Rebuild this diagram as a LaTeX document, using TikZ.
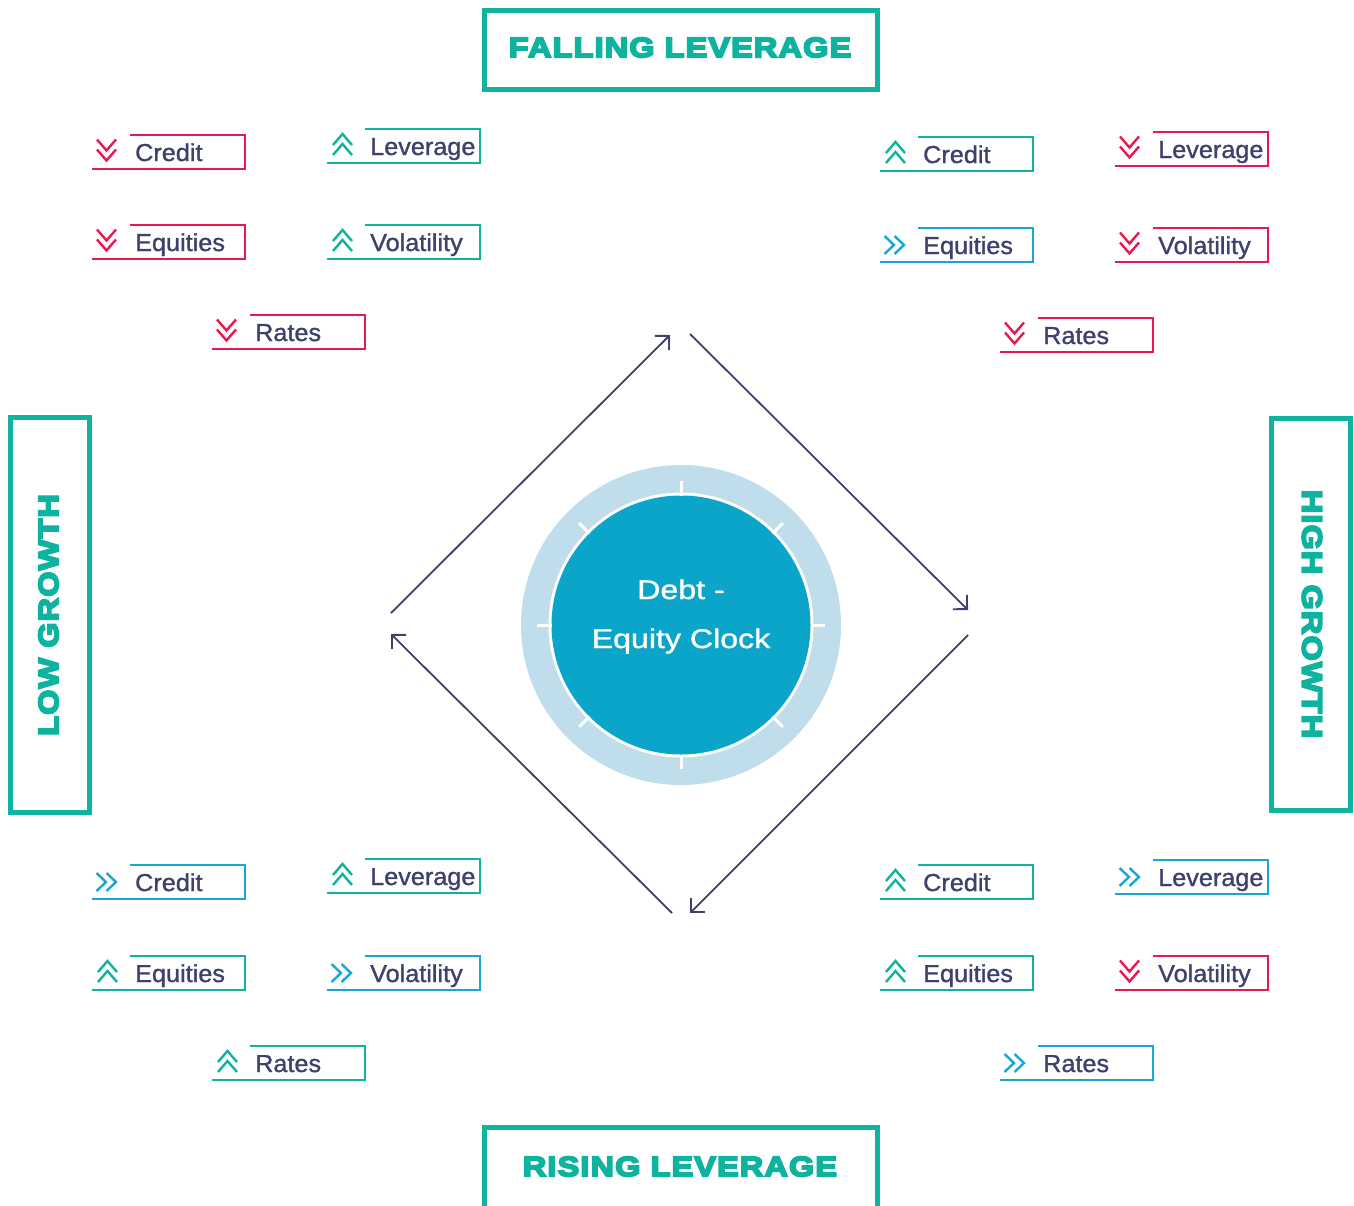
\documentclass[tikz,border=0pt]{standalone}
\usepackage{fontspec}
\setmainfont{Liberation Sans}
\newfontfamily\heavyfont[FakeBold=6.5,FakeStretch=1.16,LetterSpace=4]{Liberation Sans Bold}
\newfontfamily\labfont[FakeBold=1.2,FakeStretch=1.03]{Liberation Sans}
\newfontfamily\clockfont[FakeBold=1.2,FakeStretch=1.19]{Liberation Sans}
\usetikzlibrary{arrows.meta,calc}
\definecolor{teal}{HTML}{0DB39E}
\definecolor{red}{HTML}{E8194F}
\definecolor{blue}{HTML}{17A7D2}
\definecolor{navy}{HTML}{3F416D}
\definecolor{clocklight}{HTML}{BFDDEB}
\definecolor{clockdark}{HTML}{0CA5CA}
\tikzset{
  titlebox/.style={draw=teal, line width=5pt},
  titletext/.style={text=teal, inner sep=0pt, font=\heavyfont\fontsize{28}{32}\selectfont},
  boxline/.style={line width=2.7pt},
  chevline/.style={line width=2.4pt},
  labtext/.style={text=navy, inner sep=0pt, font=\labfont\fontsize{24.5}{28}\selectfont},
  clocktext/.style={text=white, inner sep=0pt, font=\clockfont\fontsize{27}{30}\selectfont},
  cycarrow/.style={draw=navy, line width=1.8pt, -{Straight Barb[length=10pt,width=20pt,line width=1.8pt]}},
  chevdown/.pic={
    \draw[chevline] (5,4.5) -- (14.5,15.5) -- (24,4.5);
    \draw[chevline] (5,14.5) -- (14.5,25.5) -- (24,14.5);
  },
  chevup/.pic={
    \draw[chevline] (6,16) -- (15.5,5) -- (25,16);
    \draw[chevline] (6,26) -- (15.5,15) -- (25,26);
  },
  chevright/.pic={
    \draw[chevline] (4.5,8) -- (14,17) -- (4.5,26);
    \draw[chevline] (14.5,8) -- (24,17) -- (14.5,26);
  },
}
% #1 name, #2 left, #3 top, #4 text, #5 colour, #6 direction
\newcommand{\lbl}[6]{%
  \draw[#5, boxline] ({#2+38},#3) -- ({#2+153},#3) -- ({#2+153},{#3+34}) -- (#2,{#3+34});
  \node[labtext, anchor=base west] (#1) at ({#2+43},{#3+26}) {#4};
  \pic[#5] at (#2,#3) {chev#6};
}
\begin{document}
\begin{tikzpicture}[x=1pt,y=-1pt]
\useasboundingbox (0,0) rectangle (1354,1205);

% title boxes
\draw[titlebox] (484.5,10.5) rectangle (877.5,89.5);
\node[titletext] (falling) at (680,47.5) {FALLING LEVERAGE};
\draw[titlebox] (484.5,1127.5) rectangle (877.5,1230);
\node[titletext] (rising) at (680,1166.5) {RISING LEVERAGE};
\draw[titlebox] (10.5,417.5) rectangle (89.5,812.5);
\node[titletext, rotate=90] (low) at (48.5,615) {LOW GROWTH};
\draw[titlebox] (1271.5,418.5) rectangle (1350.5,810.5);
\node[titletext, rotate=-90] (high) at (1312,614) {HIGH GROWTH};

% clock
\coordinate (c) at (681,625);
\fill[clocklight] (c) circle (160pt);
\fill[white] (c) circle (132.5pt);
\fill[clockdark] (c) circle (129.5pt);
\foreach \a in {0,45,...,315}
  \draw[white, line width=3pt] ($(c)+(\a:129.5pt)$) -- ($(c)+(\a:144pt)$);
\node[clocktext, anchor=base] (debt) at (681,599) {Debt -};
\node[clocktext, anchor=base] (eqclock) at (681,648) {Equity Clock};

% cycle arrows
\coordinate (a1s) at (391,613); \coordinate (a1e) at (670,335);
\coordinate (a2s) at (690,334); \coordinate (a2e) at (968,610);
\coordinate (a3s) at (968,635); \coordinate (a3e) at (690,913);
\coordinate (a4s) at (672,913); \coordinate (a4e) at (391,634);
\draw[cycarrow] (a1s) -- (a1e);
\draw[cycarrow] (a2s) -- (a2e);
\draw[cycarrow] (a3s) -- (a3e);
\draw[cycarrow] (a4s) -- (a4e);

% top-left quadrant
\lbl{tlcredit}{92}{135}{Credit}{red}{down}
\lbl{tllev}{327}{129}{Leverage}{teal}{up}
\lbl{tleq}{92}{225}{Equities}{red}{down}
\lbl{tlvol}{327}{225}{Volatility}{teal}{up}
\lbl{tlrates}{212}{315}{Rates}{red}{down}

% top-right quadrant
\lbl{trcredit}{880}{137}{Credit}{teal}{up}
\lbl{trlev}{1115}{132}{Leverage}{red}{down}
\lbl{treq}{880}{228}{Equities}{blue}{right}
\lbl{trvol}{1115}{228}{Volatility}{red}{down}
\lbl{trrates}{1000}{318}{Rates}{red}{down}

% bottom-left quadrant
\lbl{blcredit}{92}{865}{Credit}{blue}{right}
\lbl{bllev}{327}{859}{Leverage}{teal}{up}
\lbl{bleq}{92}{956}{Equities}{teal}{up}
\lbl{blvol}{327}{956}{Volatility}{blue}{right}
\lbl{blrates}{212}{1046}{Rates}{teal}{up}

% bottom-right quadrant
\lbl{brcredit}{880}{865}{Credit}{teal}{up}
\lbl{brlev}{1115}{860}{Leverage}{blue}{right}
\lbl{breq}{880}{956}{Equities}{teal}{up}
\lbl{brvol}{1115}{956}{Volatility}{red}{down}
\lbl{brrates}{1000}{1046}{Rates}{blue}{right}
\end{tikzpicture}
\end{document}
